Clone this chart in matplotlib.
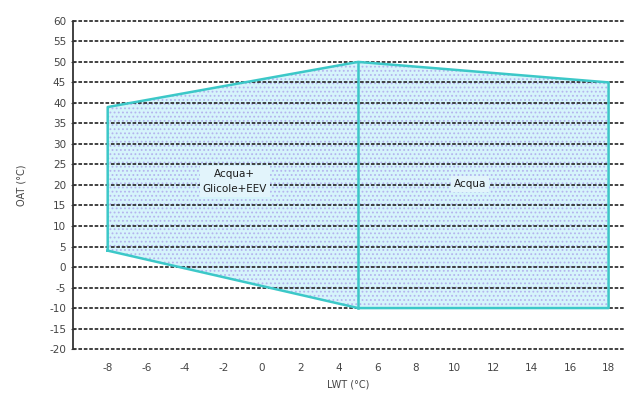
import matplotlib
matplotlib.use("Agg")
import matplotlib.pyplot as plt

plt.rcParams["axes.unicode_minus"] = False
plt.rcParams["hatch.color"] = "#b4b4ee"
plt.rcParams["hatch.linewidth"] = 0.8

# operating envelope (LWT, OAT)
envelope_lwt = [-8, -8, 5, 18, 18, 5, -8]
envelope_oat = [4, 39, 50, 45, -10, -10, 4]
divider_lwt = [5, 5]
divider_oat = [-10, 50]

x_ticks = [-8, -6, -4, -2, 0, 2, 4, 6, 8, 10, 12, 14, 16, 18]
y_ticks = [-20, -15, -10, -5, 0, 5, 10, 15, 20, 25, 30, 35, 40, 45, 50, 55, 60]

labels = ["Acqua+\nGlicole+EEV", "Acqua"]
label_x = [-1.4, 10.8]
label_y = [20.8, 20.3]

fig = plt.figure(figsize=(6.24, 3.94), dpi=100)
ax = fig.add_axes([0.117, 0.114, 0.883, 0.833])

ax.fill(envelope_lwt, envelope_oat, facecolor="#d6f4fb", edgecolor="#b4b4ee",
        lw=0, hatch="....", zorder=1)

grid_style = dict(color="#333333", lw=1.3, ls=(0, (2, 1)))
for y in y_ticks:
    ax.axhline(y, zorder=2, clip_on=False, **grid_style)

ax.plot(envelope_lwt, envelope_oat, color="#3cc8c8", lw=1.8, zorder=3)
ax.plot(divider_lwt, divider_oat, color="#3cc8c8", lw=1.8, zorder=3)

for t, x, y in zip(labels, label_x, label_y):
    ax.text(x, y, t, ha="center", va="center", fontsize=7.5, color="#1a1a1a",
            zorder=4, linespacing=1.6,
            bbox=dict(facecolor="#e2f4fb", edgecolor="none", pad=2))

ax.set_xlim(-9.8, 18.8)
ax.set_ylim(-20, 60)
ax.set_xticks(x_ticks)
ax.set_yticks(y_ticks)
ax.tick_params(labelsize=7.5, colors="#444444", length=3, direction="inout")
ax.tick_params(axis="x", pad=10, length=0)
for s in ["top", "right", "bottom"]:
    ax.spines[s].set_visible(False)
ax.spines["left"].set_color("#333333")
ax.spines["left"].set_linestyle((0, (2, 1)))
ax.spines["left"].set_linewidth(1.3)

ax.set_xlabel("LWT (°C)", fontsize=7, color="#444444", labelpad=5)
ax.set_ylabel("OAT (°C)", fontsize=7, color="#444444", labelpad=16)

fig.savefig("out.png", dpi=100)
